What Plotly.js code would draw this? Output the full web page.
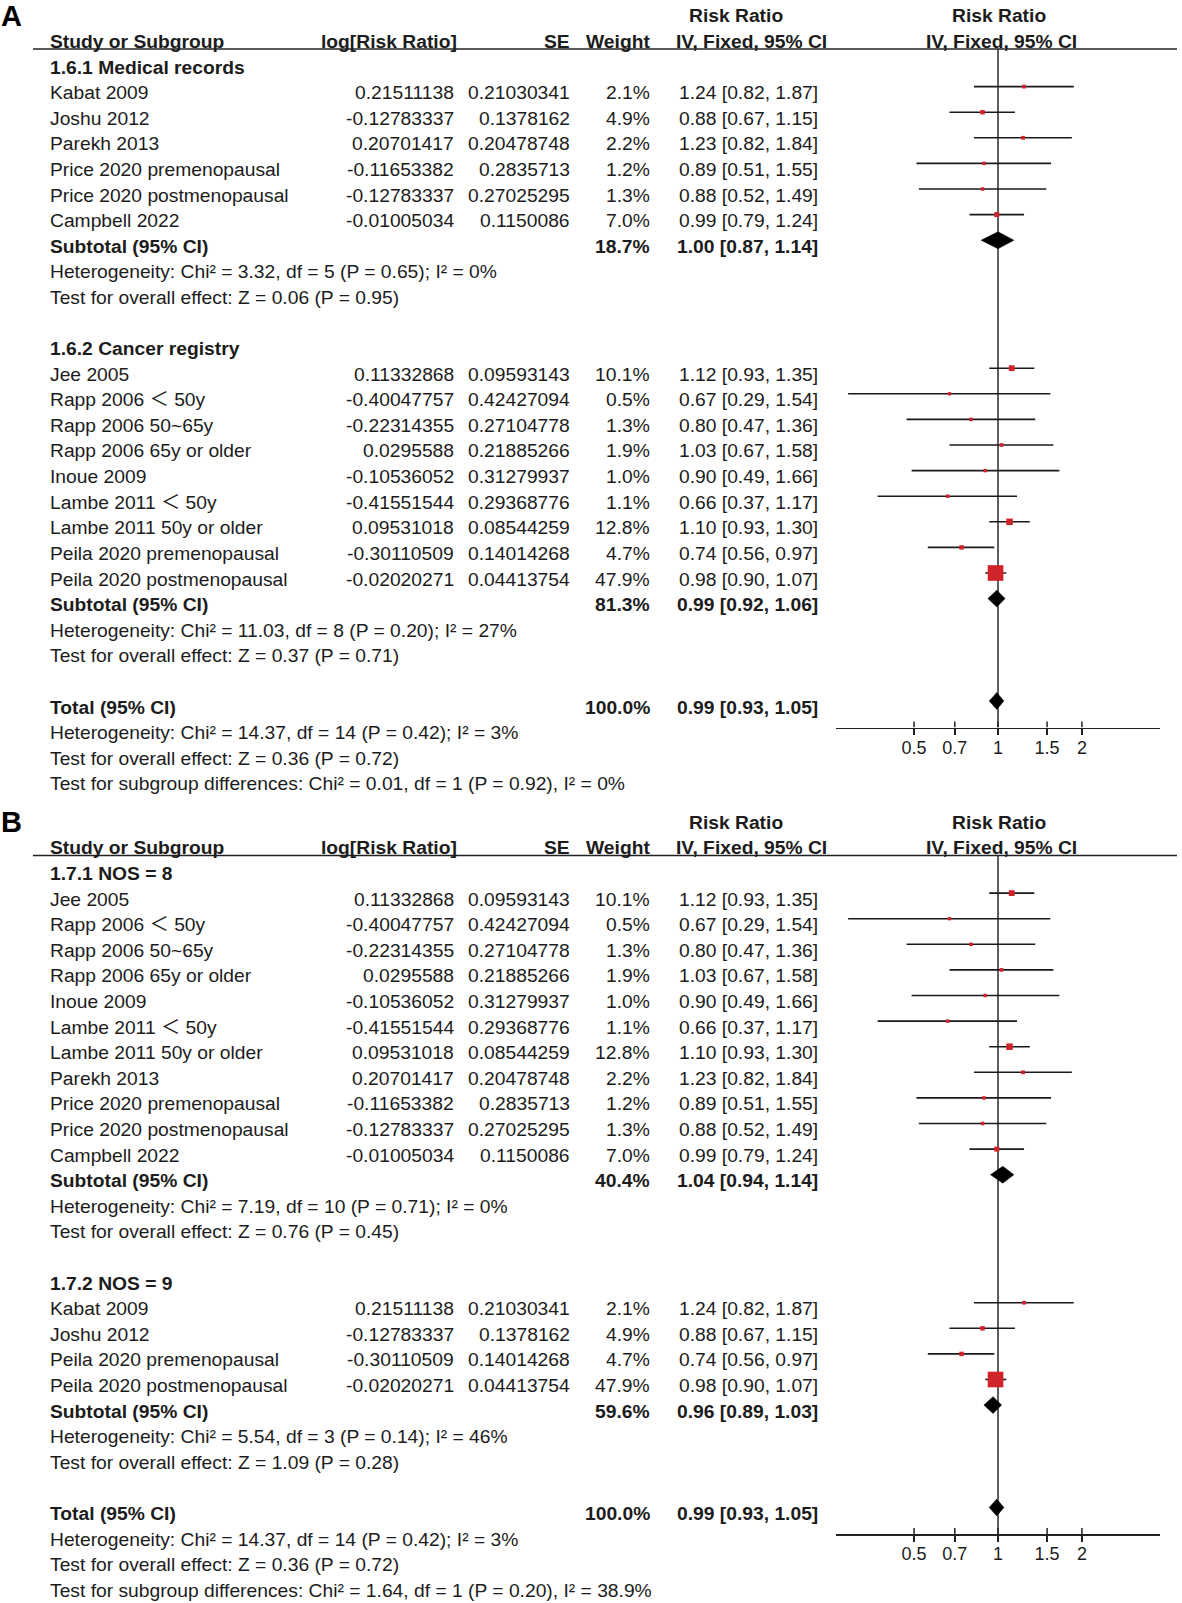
<!DOCTYPE html>
<html><head><meta charset="utf-8">
<script src="https://cdn.plot.ly/plotly-3.0.1.min.js"></script>
<style>html,body{margin:0;padding:0;background:#fff}#chart{width:1182px;height:1603px}</style>
</head><body><div id="chart"></div>
<script>
// ---------------- data ----------------
const studyNames = ["Kabat 2009","Joshu 2012","Parekh 2013","Price 2020 premenopausal","Price 2020 postmenopausal","Campbell 2022","Jee 2005","Rapp 2006 \uFF1C 50y","Rapp 2006 50~65y","Rapp 2006 65y or older","Inoue 2009","Lambe 2011 \uFF1C 50y","Lambe 2011 50y or older","Peila 2020 premenopausal","Peila 2020 postmenopausal"];
const studyLogRR = [0.21511138,-0.12783337,0.20701417,-0.11653382,-0.12783337,-0.01005034,0.11332868,-0.40047757,-0.22314355,0.0295588,-0.10536052,-0.41551544,0.09531018,-0.30110509,-0.02020271];
const studySE = [0.21030341,0.1378162,0.20478748,0.2835713,0.27025295,0.1150086,0.09593143,0.42427094,0.27104778,0.21885266,0.31279937,0.29368776,0.08544259,0.14014268,0.04413754];
const studyWeight = [2.1,4.9,2.2,1.2,1.3,7.0,10.1,0.5,1.3,1.9,1.0,1.1,12.8,4.7,47.9];
const studyRR = [1.24,0.88,1.23,0.89,0.88,0.99,1.12,0.67,0.80,1.03,0.90,0.66,1.10,0.74,0.98];
const studyLower = [0.82,0.67,0.82,0.51,0.52,0.79,0.93,0.29,0.47,0.67,0.49,0.37,0.93,0.56,0.90];
const studyUpper = [1.87,1.15,1.84,1.55,1.49,1.24,1.35,1.54,1.36,1.58,1.66,1.17,1.30,0.97,1.07];

const panelAGroupTitles = ["1.6.1 Medical records","1.6.2 Cancer registry"];
const panelAGroup1 = [0,1,2,3,4,5];
const panelAGroup2 = [6,7,8,9,10,11,12,13,14];
const panelASubWeight = [18.7,81.3];
const panelASubRR = [1.00,0.99];
const panelASubLower = [0.87,0.92];
const panelASubUpper = [1.14,1.06];
const panelAHet = ["Heterogeneity: Chi\u00B2 = 3.32, df = 5 (P = 0.65); I\u00B2 = 0%","Heterogeneity: Chi\u00B2 = 11.03, df = 8 (P = 0.20); I\u00B2 = 27%"];
const panelAEffect = ["Test for overall effect: Z = 0.06 (P = 0.95)","Test for overall effect: Z = 0.37 (P = 0.71)"];
const panelASubgroupTest = "Test for subgroup differences: Chi\u00B2 = 0.01, df = 1 (P = 0.92), I\u00B2 = 0%";

const panelBGroupTitles = ["1.7.1 NOS = 8","1.7.2 NOS = 9"];
const panelBGroup1 = [6,7,8,9,10,11,12,2,3,4,5];
const panelBGroup2 = [0,1,13,14];
const panelBSubWeight = [40.4,59.6];
const panelBSubRR = [1.04,0.96];
const panelBSubLower = [0.94,0.89];
const panelBSubUpper = [1.14,1.03];
const panelBHet = ["Heterogeneity: Chi\u00B2 = 7.19, df = 10 (P = 0.71); I\u00B2 = 0%","Heterogeneity: Chi\u00B2 = 5.54, df = 3 (P = 0.14); I\u00B2 = 46%"];
const panelBEffect = ["Test for overall effect: Z = 0.76 (P = 0.45)","Test for overall effect: Z = 1.09 (P = 0.28)"];
const panelBSubgroupTest = "Test for subgroup differences: Chi\u00B2 = 1.64, df = 1 (P = 0.20), I\u00B2 = 38.9%";

const totalWeight = 100.0;
const totalRR = 0.99, totalLower = 0.93, totalUpper = 1.05;
const totalHet = "Heterogeneity: Chi\u00B2 = 14.37, df = 14 (P = 0.42); I\u00B2 = 3%";
const totalEffect = "Test for overall effect: Z = 0.36 (P = 0.72)";

const tickValues = [0.5,0.7,1,1.5,2];
const tickLabels = ["0.5","0.7","1","1.5","2"];

// ---------------- layout constants ----------------
const W = 1182, H = 1603;
const ROW_STEP = 25.6, MARK_BASE = 61, TEXT_SHIFT = 6;
const HEADER_LINE = 49, AXIS_LINE = 727.5;
const X_LEFT = 836, X_RIGHT = 1160;
const LOG_RANGE = [-0.581, 0.581];
const ROW_TOP = (HEADER_LINE - MARK_BASE) / ROW_STEP;
const ROW_BOTTOM = (AXIS_LINE - MARK_BASE) / ROW_STEP;
const FONT = "Liberation Sans, Arial, Helvetica, sans-serif";
const FS = 19.25;
const TXT = "#1c1c1c";
const COL = {name: 48, logrr: 455.5, se: 572, weight: 652, rr: 820};
const RED = "#d1232a";

const panels = [
  {letter: "A", offset: 0, xa: "x", ya: "y", titles: panelAGroupTitles, groups: [panelAGroup1, panelAGroup2],
   subW: panelASubWeight, subRR: panelASubRR, subLo: panelASubLower, subHi: panelASubUpper,
   het: panelAHet, eff: panelAEffect, subgroup: panelASubgroupTest},
  {letter: "B", offset: 806.5, xa: "x2", ya: "y2", titles: panelBGroupTitles, groups: [panelBGroup1, panelBGroup2],
   subW: panelBSubWeight, subRR: panelBSubRR, subLo: panelBSubLower, subHi: panelBSubUpper,
   het: panelBHet, eff: panelBEffect, subgroup: panelBSubgroupTest}
];

const fmtRR = (r, l, u) => r.toFixed(2) + " [" + l.toFixed(2) + ", " + u.toFixed(2) + "]";
const hasWide = s => s.indexOf("\uFF1C") >= 0;
const fmtName = s => s.replace("\uFF1C", "<span style=\"font-family:'Noto Sans CJK SC'\">\uFF1C</span>");

const traces = [];
const annotations = [];
const shapes = [];
const layout = {
  width: W, height: H, margin: {l: 0, r: 0, t: 0, b: 0},
  paper_bgcolor: "#fff", plot_bgcolor: "rgba(0,0,0,0)", showlegend: false,
  font: {family: FONT, color: TXT, size: FS},
  annotations: annotations, shapes: shapes
};

// text rows are placed in paper space at the pixel height of their row
function ann(text, x, row, anchor, offset, opts) {
  opts = opts || {};
  const yPix = offset + MARK_BASE + row * ROW_STEP + TEXT_SHIFT + (opts.dy || 0);
  annotations.push({
    text: opts.bold ? "<b>" + text + "</b>" : text,
    xref: "paper", x: x / W, yref: "paper", y: 1 - yPix / H,
    xanchor: anchor, yanchor: "middle", showarrow: false,
    font: {family: FONT, size: opts.size || FS, color: opts.color || TXT}
  });
}

panels.forEach((p, pi) => {
  const yaKey = pi === 0 ? "yaxis" : "yaxis2";
  const xaKey = pi === 0 ? "xaxis" : "xaxis2";
  const o = p.offset;
  layout[xaKey] = {
    domain: [X_LEFT / W, X_RIGHT / W], type: "log", range: LOG_RANGE, anchor: p.ya,
    tickvals: tickValues, ticktext: tickLabels, ticks: "outside", ticklen: 6, tickwidth: 1.5, tickcolor: "#222",
    showline: true, linecolor: "#222", linewidth: 1.5, showgrid: false, zeroline: false,
    ticklabelstandoff: -3,
    tickfont: {family: FONT, size: 18, color: TXT}, fixedrange: true
  };
  layout[yaKey] = {
    domain: [1 - (AXIS_LINE + o) / H, 1 - (HEADER_LINE + o) / H],
    range: [ROW_BOTTOM, ROW_TOP], anchor: p.xa, visible: false, fixedrange: true
  };
  // header line
  shapes.push({type: "line", xref: "paper", yref: "paper", x0: 33 / W, x1: 1177 / W,
    y0: 1 - (HEADER_LINE + o) / H, y1: 1 - (HEADER_LINE + o) / H,
    line: {color: "#222", width: 1.5}});
  // panel letter & headers
  ann(p.letter, -1, -2, "left", o, {bold: true, size: 29, color: "#000", dy: 0});
  ann("Risk Ratio", 736, -2, "center", o, {bold: true});
  ann("Risk Ratio", 998.5, -2, "center", o, {bold: true});
  ann("Study or Subgroup", COL.name, -1, "left", o, {bold: true});
  ann("log[Risk Ratio]", 459, -1, "right", o, {bold: true});
  ann("SE", COL.se, -1, "right", o, {bold: true});
  ann("Weight", COL.weight, -1, "right", o, {bold: true});
  ann("IV, Fixed, 95% CI", 751.5, -1, "center", o, {bold: true});
  ann("IV, Fixed, 95% CI", 1001.5, -1, "center", o, {bold: true});

  const ciX = [], ciY = [], mX = [], mY = [], mS = [], dX = [], dY = [];
  const diamond = (r, l, u, row) => {
    dX.push(l, r, u, r, l, null);
    dY.push(row, row - 0.33, row, row + 0.33, row, null);
  };
  let row = 0;
  p.groups.forEach((g, gi) => {
    ann(p.titles[gi], COL.name, row, "left", o, {bold: true});
    row++;
    g.forEach(k => {
      ann(fmtName(studyNames[k]), COL.name, row, "left", o, {dy: hasWide(studyNames[k]) ? -1.5 : 0});
      ann(String(studyLogRR[k]), COL.logrr, row, "right", o);
      ann(String(studySE[k]), COL.se, row, "right", o);
      ann(studyWeight[k].toFixed(1) + "%", COL.weight, row, "right", o);
      ann(fmtRR(studyRR[k], studyLower[k], studyUpper[k]), COL.rr, row, "right", o);
      ciX.push(studyLower[k], studyUpper[k], null);
      ciY.push(row, row, null);
      mX.push(studyRR[k]); mY.push(row); mS.push(3.2 + 0.26 * studyWeight[k]);
      row++;
    });
    ann("Subtotal (95% CI)", COL.name, row, "left", o, {bold: true});
    ann(p.subW[gi].toFixed(1) + "%", COL.weight, row, "right", o, {bold: true});
    ann(fmtRR(p.subRR[gi], p.subLo[gi], p.subHi[gi]), COL.rr, row, "right", o, {bold: true});
    diamond(p.subRR[gi], p.subLo[gi], p.subHi[gi], row);
    row++;
    ann(p.het[gi], COL.name, row, "left", o); row++;
    ann(p.eff[gi], COL.name, row, "left", o); row++;
    row++; // blank
  });
  ann("Total (95% CI)", COL.name, row, "left", o, {bold: true});
  ann(totalWeight.toFixed(1) + "%", COL.weight, row, "right", o, {bold: true});
  ann(fmtRR(totalRR, totalLower, totalUpper), COL.rr, row, "right", o, {bold: true});
  diamond(totalRR, totalLower, totalUpper, row);
  row++;
  ann(totalHet, COL.name, row, "left", o); row++;
  ann(totalEffect, COL.name, row, "left", o); row++;
  ann(p.subgroup, COL.name, row, "left", o); row++;

  // null line
  traces.push({type: "scatter", mode: "lines", x: [1, 1], y: [ROW_TOP, ROW_BOTTOM], xaxis: p.xa, yaxis: p.ya,
    line: {color: "#2a2a2a", width: 1.5}, hoverinfo: "skip", cliponaxis: false});
  // inner tick halves
  const tX = [], tY = [];
  tickValues.forEach(t => { tX.push(t, t, null); tY.push(ROW_BOTTOM, ROW_BOTTOM - 6 / ROW_STEP, null); });
  traces.push({type: "scatter", mode: "lines", x: tX, y: tY, xaxis: p.xa, yaxis: p.ya,
    line: {color: "#222", width: 1.5}, hoverinfo: "skip", cliponaxis: false});
  // CI lines
  traces.push({type: "scatter", mode: "lines", x: ciX, y: ciY, xaxis: p.xa, yaxis: p.ya,
    line: {color: "#1a1a1a", width: 1.6}, hoverinfo: "skip", cliponaxis: false});
  // study markers
  traces.push({type: "scatter", mode: "markers", x: mX, y: mY, xaxis: p.xa, yaxis: p.ya,
    marker: {symbol: "square", color: RED, opacity: 1, size: mS, line: {width: 0}}, hoverinfo: "skip", cliponaxis: false});
  // diamonds
  traces.push({type: "scatter", mode: "lines", x: dX, y: dY, xaxis: p.xa, yaxis: p.ya, fill: "toself",
    fillcolor: "#000", line: {color: "#000", width: 0.5}, hoverinfo: "skip", cliponaxis: false});
});

Plotly.newPlot("chart", traces, layout, {staticPlot: true, displayModeBar: false});
</script>
</body></html>
